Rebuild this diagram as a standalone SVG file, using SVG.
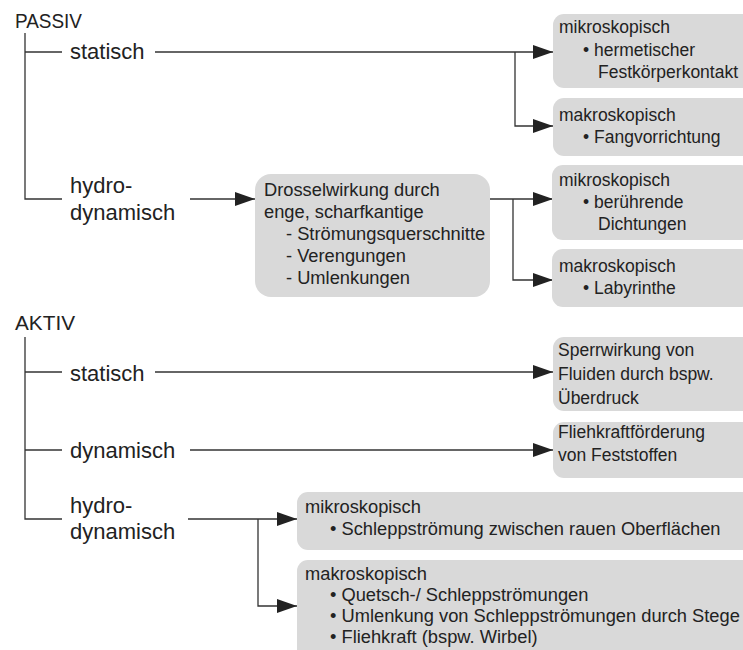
<svg xmlns="http://www.w3.org/2000/svg" width="743" height="650" viewBox="0 0 743 650">
<style>
text{font-family:"Liberation Sans",Arial,sans-serif;font-size:17.5px;fill:#222}
.h{font-size:21px}
.lab{font-size:22px}
.b{font-size:18.3px}
.box{fill:#d9d9d9}
.ln{fill:none;stroke:#333;stroke-width:1.3}
</style>
<defs>
<marker id="ah" markerUnits="userSpaceOnUse" markerWidth="20" markerHeight="14" refX="20" refY="7" orient="auto">
<path d="M0,0 L20,7 L0,14 Z" fill="#222"/>
</marker>
</defs>
<rect width="743" height="650" fill="#fff"/>
<g id="connectors">
<path class="ln" d="M25,33 V199 H62"/>
<path class="ln" d="M25,52 H62"/>
<path class="ln" d="M155,52 H553" marker-end="url(#ah)"/>
<path class="ln" d="M515,52 V126 H553" marker-end="url(#ah)"/>
<path class="ln" d="M190,199 H255" marker-end="url(#ah)"/>
<path class="ln" d="M490,199 H553" marker-end="url(#ah)"/>
<path class="ln" d="M513,199 V280 H553" marker-end="url(#ah)"/>
<path class="ln" d="M25,337 V519 H62"/>
<path class="ln" d="M25,372 H62"/>
<path class="ln" d="M155,372 H553" marker-end="url(#ah)"/>
<path class="ln" d="M25,450 H62"/>
<path class="ln" d="M190,450 H553" marker-end="url(#ah)"/>
<path class="ln" d="M188,519 H297" marker-end="url(#ah)"/>
<path class="ln" d="M258,519 V606 H297" marker-end="url(#ah)"/>
</g>
<g id="passiv"><text class="h" x="15" y="28" textLength="67" lengthAdjust="spacingAndGlyphs">PASSIV</text></g>
<g id="p-statisch"><text class="lab" x="70" y="59">statisch</text></g>
<g id="p-hydro"><text class="lab" x="70" y="193">hydro-</text><text class="lab" x="70" y="220">dynamisch</text></g>
<g id="p-mikro1">
<rect class="box" x="553" y="14" width="200" height="74" rx="11"/>
<text x="559" y="33">mikroskopisch</text>
<text x="583" y="56">• hermetischer</text>
<text x="598" y="78">Festkörperkontakt</text>
</g>
<g id="p-makro1">
<rect class="box" x="553" y="98" width="200" height="58" rx="11"/>
<text x="559" y="121">makroskopisch</text>
<text x="583" y="143">• Fangvorrichtung</text>
</g>
<g id="p-drossel">
<rect class="box" x="255" y="174" width="235" height="123" rx="16"/>
<text class="b" x="264" y="196">Drosselwirkung durch</text>
<text class="b" x="264" y="218">enge, scharfkantige</text>
<text class="b" x="286" y="240">- Strömungsquerschnitte</text>
<text class="b" x="286" y="262">- Verengungen</text>
<text class="b" x="286" y="284">- Umlenkungen</text>
</g>
<g id="p-mikro2">
<rect class="box" x="552" y="165" width="200" height="75" rx="11"/>
<text x="559" y="186">mikroskopisch</text>
<text x="583" y="208">• berührende</text>
<text x="598" y="230">Dichtungen</text>
</g>
<g id="p-makro2">
<rect class="box" x="552" y="249" width="200" height="58" rx="11"/>
<text x="559" y="272">makroskopisch</text>
<text x="583" y="294">• Labyrinthe</text>
</g>
<g id="aktiv"><text class="h" x="15" y="330" textLength="60" lengthAdjust="spacingAndGlyphs">AKTIV</text></g>
<g id="a-statisch"><text class="lab" x="70" y="381">statisch</text></g>
<g id="a-dynamisch"><text class="lab" x="70" y="458">dynamisch</text></g>
<g id="a-hydro"><text class="lab" x="70" y="513">hydro-</text><text class="lab" x="70" y="539">dynamisch</text></g>
<g id="a-sperr">
<rect class="box" x="553" y="337" width="200" height="74" rx="11"/>
<text x="558" y="356">Sperrwirkung von</text>
<text x="558" y="380">Fluiden durch bspw.</text>
<text x="558" y="404">Überdruck</text>
</g>
<g id="a-flieh">
<rect class="box" x="553" y="422" width="200" height="56" rx="11"/>
<text x="558" y="438">Fliehkraftförderung</text>
<text x="558" y="461">von Feststoffen</text>
</g>
<g id="a-mikro">
<rect class="box" x="297" y="492" width="456" height="58" rx="11"/>
<text class="b" x="305" y="513">mikroskopisch</text>
<text class="b" x="330" y="535">• Schleppströmung zwischen rauen Oberflächen</text>
</g>
<g id="a-makro">
<rect class="box" x="297" y="560" width="456" height="100" rx="11"/>
<text class="b" x="305" y="580">makroskopisch</text>
<text class="b" x="330" y="601">• Quetsch-/ Schleppströmungen</text>
<text class="b" x="330" y="622">• Umlenkung von Schleppströmungen durch Stege</text>
<text class="b" x="330" y="643">• Fliehkraft (bspw. Wirbel)</text>
</g>
</svg>
